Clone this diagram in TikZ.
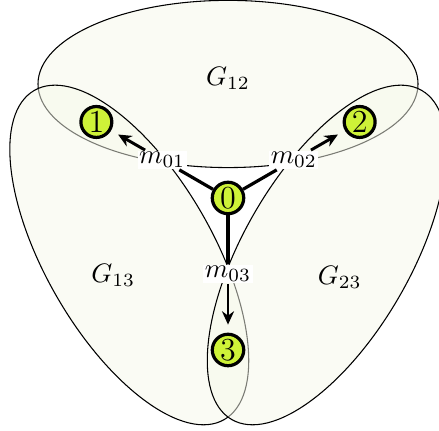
\documentclass[tikz,border=0pt]{standalone}
\usepackage{tikz}
\usetikzlibrary{arrows.meta, positioning}
\definecolor{nodegreen}{RGB}{206,242,56}
\definecolor{regionfill}{RGB}{246,248,234}

\begin{document}
\begin{tikzpicture}[
        region/.style={draw=black, line width=0.4pt, fill=regionfill, fill opacity=0.5},
        vertex/.style={circle, draw=black, fill=nodegreen, line width=1.2pt, inner sep=0.6pt, font=\large},
        msg/.style={fill=white, inner sep=0.6pt},
        link/.style={line width=1.2pt},
        arrow/.style={-{Stealth[length=5pt, width=4.5pt]}, line width=1.1pt, shorten >=3pt}
    ]
    \useasboundingbox (-3.0,-3.053) rectangle (2.776,2.605);

    % Groups
    \draw[region] (0,1.5) ellipse [x radius=2.5cm, y radius=1.1cm];
    \draw[region, rotate=120] (0,1.5) ellipse [x radius=2.5cm, y radius=1.1cm];
    \draw[region, rotate=240] (0,1.5) ellipse [x radius=2.5cm, y radius=1.1cm];

    \node (g12) at (0,1.58) {$G_{12}$};
    \node (g13) at (-1.51,-1.02) {$G_{13}$};
    \node (g23) at (1.47,-1.04) {$G_{23}$};

    % Processes
    \node[vertex] (p0) at (0,0) {0};
    \node[vertex] (p1) at (150:2) {1};
    \node[vertex] (p2) at (30:2) {2};
    \node[vertex] (p3) at (270:2) {3};

    % Messages
    \node[msg] (m01) at (150:1) {$m_{01}$};
    \node[msg] (m02) at (30:1) {$m_{02}$};
    \node[msg] (m03) at (270:1) {$m_{03}$};

    % Links
    \draw[link] (p0) -- (m01);
    \draw[link] (p0) -- (m02);
    \draw[link] (p0) -- (m03);
    \draw[arrow] (m01) -- (p1);
    \draw[arrow] (m02) -- (p2);
    \draw[arrow] (m03) -- (p3);

\end{tikzpicture}
\end{document}
